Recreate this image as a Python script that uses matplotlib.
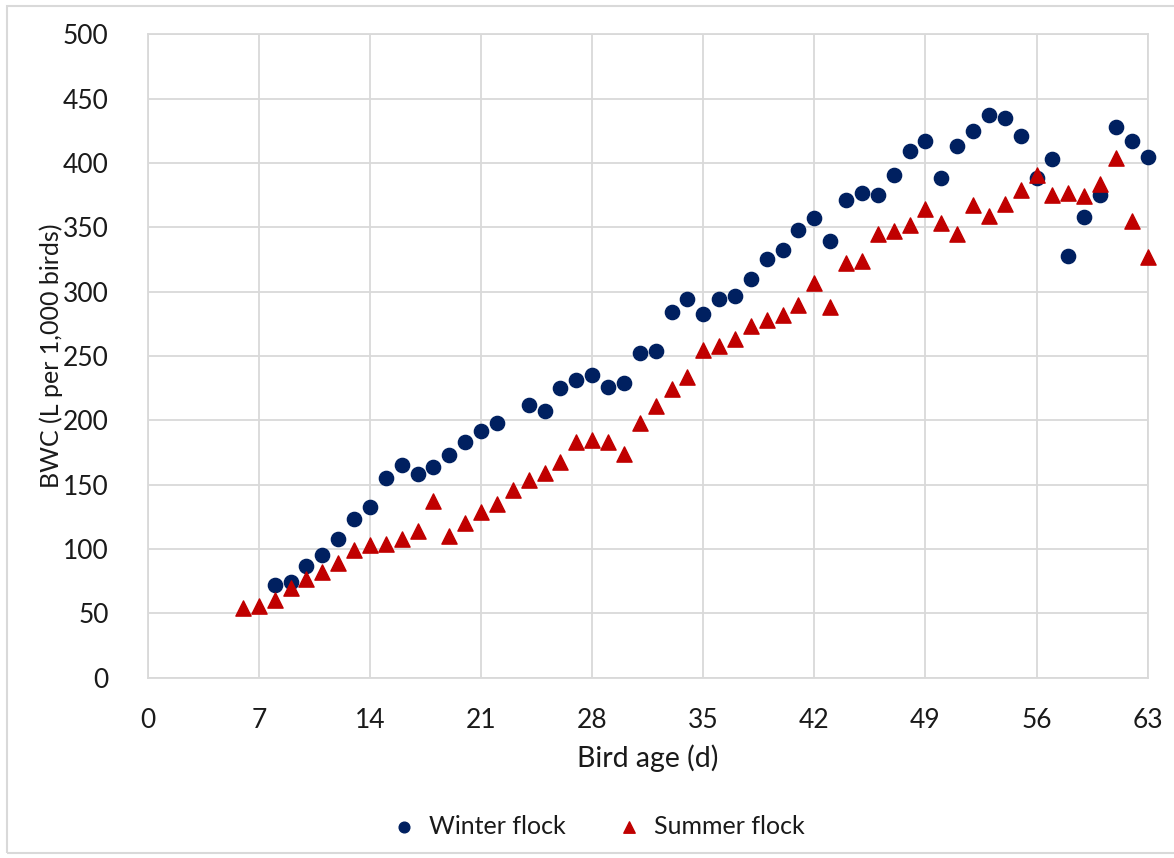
import matplotlib
matplotlib.use("Agg")
import matplotlib.pyplot as plt
from matplotlib.patches import Rectangle

# bird age (d) and BWC (L per 1,000 birds)
winter_age = [8, 9, 10, 11, 12, 13, 14, 15, 16, 17, 18, 19, 20, 21, 22,
              24, 25, 26, 27, 28, 29, 30, 31, 32, 33, 34, 35, 36, 37, 38,
              39, 40, 41, 42, 43, 44, 45, 46, 47, 48, 49, 50, 51, 52, 53,
              54, 55, 56, 57, 58, 59, 60, 61, 62, 63]
winter_bwc = [72, 74, 87, 95, 108, 123, 133, 155, 165, 158, 164, 173, 183, 192, 198,
              212, 207, 225, 231, 235, 226, 229, 252, 254, 284, 294, 283, 294, 297, 310,
              325, 332, 348, 357, 339, 371, 377, 375, 391, 409, 417, 388, 413, 425, 437,
              435, 421, 388, 403, 328, 358, 375, 428, 417, 405]

summer_age = list(range(6, 64))
summer_bwc = [54, 56, 60, 70, 77, 82, 89, 99, 103, 104, 108, 114, 137, 110, 120,
              129, 135, 146, 154, 159, 168, 183, 185, 183, 174, 198, 211, 224, 234, 255,
              258, 263, 273, 278, 282, 290, 307, 288, 322, 324, 345, 347, 352, 364, 353,
              345, 367, 359, 368, 379, 391, 375, 377, 374, 384, 404, 355, 327]

x_ticks = [0, 7, 14, 21, 28, 35, 42, 49, 56, 63]
y_ticks = [0, 50, 100, 150, 200, 250, 300, 350, 400, 450, 500]

plt.rcParams["font.family"] = ["Lato", "DejaVu Sans"]

W, H = 1174, 858
fig = plt.figure(figsize=(W / 100, H / 100), dpi=100)
fig.patches.append(Rectangle((7 / W, 5 / H), 1.1, (853 - 6) / H, transform=fig.transFigure,
                             fill=False, edgecolor="#d9d9d9", linewidth=1.5))

ax = fig.add_axes([147.7 / W, (H - 677.7) / H, 1000 / W, (677.7 - 34.3) / H])
grid_c = "#d9d9d9"
txt_c = "#1a1a1a"

ax.scatter(winter_age, winter_bwc, s=105, marker="o", color="#002060", zorder=3,
           clip_on=False, label="Winter flock")
ax.scatter(summer_age, summer_bwc, s=120, marker="^", color="#c00000", zorder=3,
           clip_on=False, label="Summer flock")

ax.set_xlim(0, 63)
ax.set_ylim(0, 500)
ax.set_xticks(x_ticks)
ax.set_yticks(y_ticks)
ax.grid(True, color=grid_c, linewidth=1.3)
ax.set_axisbelow(True)
for s in ax.spines.values():
    s.set_color(grid_c)
    s.set_linewidth(1.3)
ax.tick_params(length=0, labelsize=19, colors=txt_c)
ax.tick_params(axis="x", pad=22)
ax.tick_params(axis="y", pad=28)

ax.set_xlabel("Bird age (d)", fontsize=20.5, color=txt_c, labelpad=8)
ax.set_ylabel("BWC (L per 1,000 birds)", fontsize=18, color=txt_c, labelpad=0)

fig.legend(loc="center", bbox_to_anchor=(592 / W, (H - 826) / H), ncol=2, frameon=False,
           fontsize=18, handletextpad=0.0, columnspacing=1.5, markerscale=0.75,
           labelcolor=txt_c)

fig.savefig("out.png", dpi=100)
